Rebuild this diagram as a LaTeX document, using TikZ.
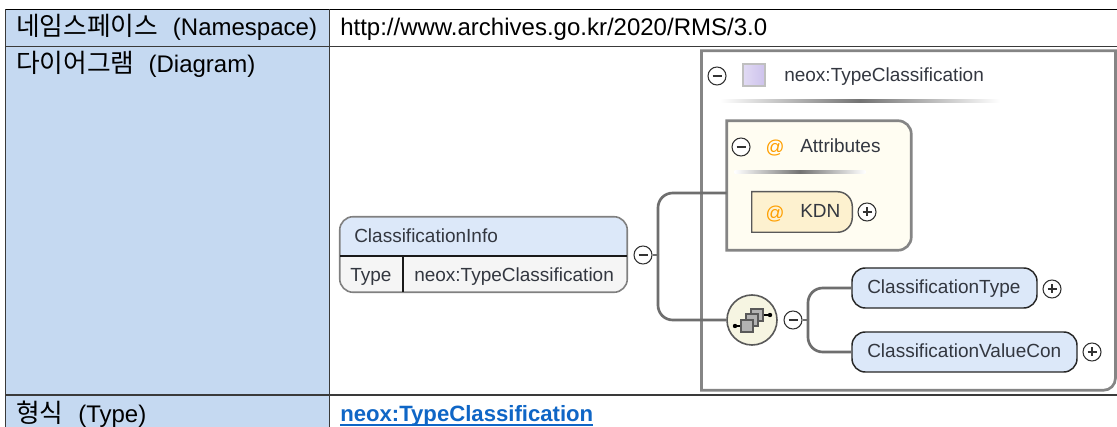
\documentclass[tikz,border=0pt]{standalone}
\usepackage{fontspec}
\setmainfont{Liberation Sans}
\newfontfamily\krfont{Noto Sans CJK KR}
\usetikzlibrary{calc}
\definecolor{hdrblue}{HTML}{C5D9F1}
\definecolor{gridline}{HTML}{3A3A3A}
\definecolor{framegray}{HTML}{858585}
\definecolor{wire}{HTML}{6E6E6E}
\definecolor{nodeblue}{HTML}{DCE8F9}
\definecolor{cream}{HTML}{FFFDF2}
\definecolor{attrfill}{HTML}{FDF1CF}
\definecolor{seqfill}{HTML}{F6F5E2}
\definecolor{txt}{HTML}{333740}
\definecolor{linkblue}{HTML}{0F66C6}
\definecolor{lavender}{HTML}{CDC2EC}
\newcommand{\kr}[1]{{\krfont\fontsize{19.3pt}{20pt}\selectfont #1}}
\tikzset{
  x=0.75pt,y=-0.75pt,
  hdrtext/.style={anchor=base west,inner sep=0pt,font=\fontsize{18pt}{20pt}\selectfont,text=black},
  difftext/.style={anchor=base west,inner sep=0pt,font=\fontsize{14.25pt}{17pt}\selectfont,text=txt},
  toggle/.style={circle,draw=black!80,line width=0.8pt,minimum size=13.5pt,inner sep=0pt,fill=white},
  minussign/.style={path picture={\draw[black!80,line width=0.8pt] (path picture bounding box.center) ++(-4.5,0) -- ++(9,0);}},
  plussign/.style={path picture={\draw[black!80,line width=0.8pt] (path picture bounding box.center) ++(-4.5,0) -- ++(9,0) (path picture bounding box.center) ++(0,-4.5) -- ++(0,9);}},
  wireline/.style={draw=wire,line width=2pt,rounded corners=11pt},
  fade/.style={left color=white,right color=white,middle color=black!55},
  blueel/.style={draw=black!85,line width=1.1pt,fill=nodeblue,rounded corners=10pt,inner sep=0pt},
  atsign/.style={inner sep=0pt,font=\fontsize{14pt}{16pt}\selectfont,text=orange!75!yellow},
}
\begin{document}
\begin{tikzpicture}
\useasboundingbox (0,0) rectangle (1117,427);
\clip (0,0) rectangle (1117,427);
\fill[white] (0,0) rectangle (1117,427);
% table
\fill[hdrblue] (5.5,9.5) rectangle (329.5,427);
\draw[gridline,line width=0.9pt] (5.5,427) -- (5.5,9.5);
\draw[black,line width=1.2pt] (5.5,9.5) -- (1117,9.5);
\draw[gridline,line width=0.9pt] (5.5,46.5) -- (1117,46.5);
\draw[gridline,line width=0.9pt] (5.5,395) -- (1117,395);
\draw[gridline,line width=0.9pt] (329.5,9.5) -- (329.5,427);
\node[hdrtext] (ns) at (16,36) {\kr{네임스페이스}\hspace{11pt}(Namespace)};
\node[hdrtext] (nsv) at (340,36) {http://www.archives.go.kr/2020/RMS/3.0};
\node[hdrtext] (dg) at (16,73) {\kr{다이어그램}\hspace{10.5pt}(Diagram)};
\node[hdrtext] (ty) at (16,422) {\kr{형식}\hspace{11pt}(Type)};
\node[hdrtext,font=\fontsize{16.6pt}{18pt}\selectfont\bfseries,text=linkblue] (tyv) at (340,421.5) {neox:TypeClassification};
\draw[linkblue,line width=1.1pt] ($(tyv.base west)+(0,3.5)$) -- ($(tyv.base east)+(0,3.5)$);
% type frame
\node[inner sep=0pt,minimum width=310pt,minimum height=254.25pt] (frame) at (908.5,220.5) {};
\draw[framegray,line width=2pt,fill=white]
  (frame.north east) [rounded corners=9pt] -- (frame.south east)
  [sharp corners] -- (frame.south west) -- (frame.north west) -- cycle;
\node[toggle,minussign] (tfm) at (717,76) {};
\node[inner sep=0pt,minimum size=16.5pt,left color=lavender!60,right color=lavender,draw=black!25,line width=0.8pt] (tsq) at (754,75) {};
\node[difftext] (tft) at (784,82) {neox:TypeClassification};
\node[fade,inner sep=0pt,minimum width=210pt,minimum height=2pt] (tfl) at (860,101) {};
% attributes
\node[inner sep=0pt,minimum width=138pt,minimum height=96.75pt] (attr) at (819,185.5) {};
\draw[framegray,line width=2pt,fill=cream]
  (attr.north west) [rounded corners=10pt] -- (attr.north east) -- (attr.south east)
  [sharp corners] -- (attr.south west) -- cycle;
\node[toggle,minussign] (am) at (741,147) {};
\node[atsign] (aat) at (775,148) {@};
\node[difftext] (att) at (800,153) {Attributes};
\node[fade,inner sep=0pt,minimum width=98pt,minimum height=2pt] (atl) at (800,172) {};
% KDN
\node[inner sep=0pt,minimum width=75pt,minimum height=30pt] (kdn) at (802,212) {};
\draw[black!65,line width=1.1pt,fill=attrfill]
  (kdn.north west) [rounded corners=11pt] -- (kdn.north east) -- (kdn.south east)
  [sharp corners] -- (kdn.south west) -- cycle;
\node[atsign] (kat) at (775,214) {@};
\node[difftext] (kt) at (800,218) {KDN};
\node[toggle,plussign] (kp) at (867,212) {};
% ClassificationInfo
\node[inner sep=0pt,minimum width=215.25pt,minimum height=56.25pt] (info) at (483.5,254.5) {};
\coordinate (infoL) at (340,256);
\coordinate (infoR) at (627,256);
\coordinate (infoV) at (403,256);
\coordinate (infoB) at (403,292);
\fill[nodeblue] (infoL) [rounded corners=10pt] -- (info.north west) -- (info.north east) [sharp corners] -- (infoR) -- cycle;
\fill[black!4] (infoR) [rounded corners=10pt] -- (info.south east) -- (info.south west) [sharp corners] -- (infoL) -- cycle;
\draw[black!50,line width=1.2pt,rounded corners=10pt] (info.north west) rectangle (info.south east);
\draw[black!90,line width=1.1pt] (infoL) -- (infoR) (infoV) -- (infoB);
\node[difftext] (inft) at (354,243) {ClassificationInfo};
\node[difftext] (inty) at (350,282) {Type};
\node[difftext] (intv) at (414,282) {neox:TypeClassification};
\node[toggle,minussign] (im) at (643,255) {};
% sequence
\node[circle,draw=black!65,line width=1.2pt,fill=seqfill,minimum size=37.5pt,inner sep=0pt] (seq) at (752,320) {};
\node[toggle,minussign] (sm) at (793,320) {};
\foreach \n/\cx/\cy in {sqa/757/315,sqb/752/320,sqc/747/326}
  \node[draw=black!65,fill=black!30,line width=0.8pt,minimum size=9pt,inner sep=0pt] (\n) at (\cx,\cy) {};
\coordinate (dotl) at (735,326);
\coordinate (dotr) at (770,315);
\draw[black,line width=1.1pt] (dotl) -- (sqc.west) (sqa.east) -- (dotr);
\fill[black] (dotl) circle[radius=2.2] (dotr) circle[radius=2.2];
% elements
\node[blueel,minimum width=138.75pt,minimum height=30pt] (ct) at (944.5,288) {};
\node[difftext] (ctt) at (867,294) {ClassificationType};
\node[toggle,plussign] (cp) at (1052,289) {};
\node[blueel,minimum width=168.75pt,minimum height=30pt] (cv) at (964.5,352) {};
\node[difftext] (cvt) at (867,358) {ClassificationValueCon};
\node[toggle,plussign] (vp) at (1092,352) {};
% connectors
\coordinate (trunk) at (658,255);
\coordinate (branch) at (808,320);
\draw[wire,line width=1.6pt] (im.east) -- (trunk);
\draw[wireline] (trunk) |- (attr.west |- 0,193);
\draw[wireline] (trunk) |- (seq.west);
\draw[wire,line width=1.6pt] (sm.east) -- (branch);
\draw[wireline] (branch) |- (ct.west);
\draw[wireline] (branch) |- (cv.west);
\end{tikzpicture}
\end{document}
